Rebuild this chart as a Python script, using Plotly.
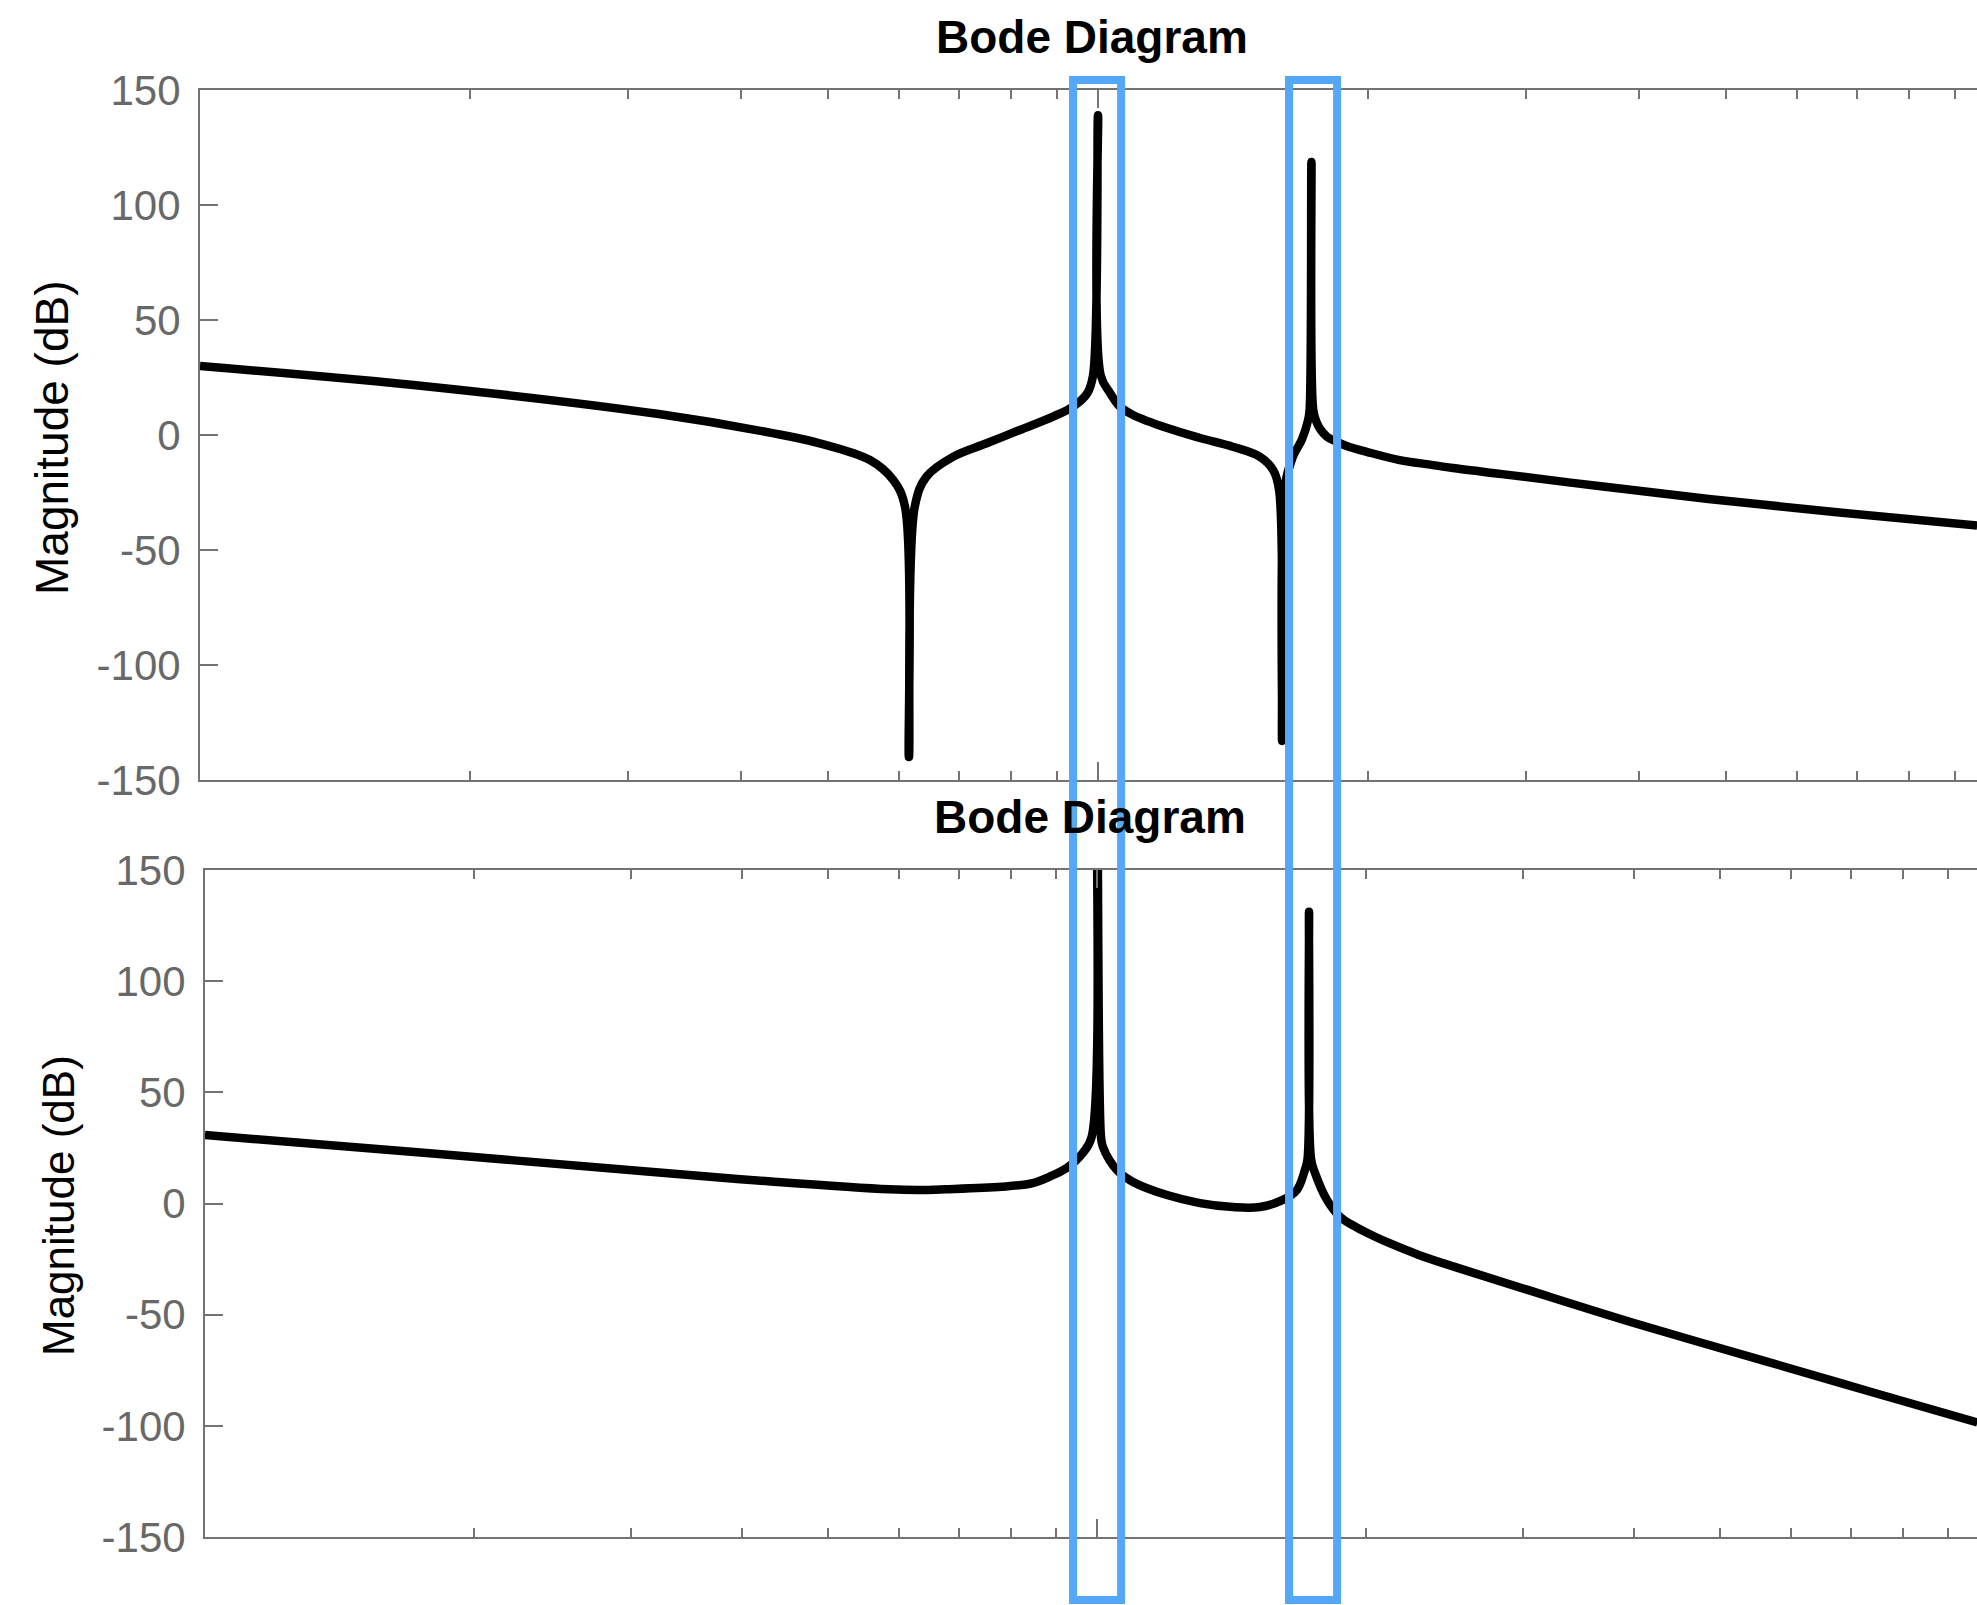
import math
import plotly.graph_objects as go

# Driving-point magnitude (rad/s, dB)
W_TOP = [0.1, 0.1803, 0.3243, 0.4355, 0.4898, 0.5572, 0.5916, 0.6095, 0.6158, 0.6252,
         0.6442, 0.6902, 0.7516, 0.8185, 0.8913, 0.9376, 0.9727, 0.9874, 1.0, 1.0069,
         1.0313, 1.0580, 1.0940, 1.1941, 1.2990, 1.4125, 1.5136, 1.5668, 1.5911, 1.6032,
         1.6144, 1.6482, 1.6866, 1.7140, 1.7205, 1.7285, 1.7365, 1.7498, 1.7683, 1.7971,
         1.8448, 1.9055, 1.9953, 2.1677, 2.3442, 2.5119, 2.8184, 3.6308, 4.7863, 6.6069,
         9.5280]
MAG_TOP = [30.0, 21.0, 9.1, 0.7, -3.6, -10.9, -19.6, -31.0, -140.0, -31.0,
           -18.1, -9.4, -3.6, 2.2, 8.0, 12.3, 18.1, 26.0, 139.0, 26.0,
           18.3, 12.3, 8.7, 3.0, -1.3, -5.1, -9.4, -15.2, -24.0, -133.0,
           -22.5, -9.4, -2.0, 6.5, 11.0, 118.7, 11.0, 6.0, 2.5, -0.6,
           -3.0, -5.2, -7.4, -10.9, -12.9, -14.6, -17.0, -22.3, -27.8, -33.5,
           -39.4]

# Transfer magnitude to the far end (rad/s, dB)
W_BOT = [0.1, 0.1786, 0.3228, 0.4345, 0.5848, 0.631, 0.6761, 0.7816, 0.8472, 0.8851,
         0.9247, 0.9638, 0.9863, 1.0, 1.0104, 1.0155, 1.0529, 1.0975, 1.1981, 1.3046,
         1.4204, 1.5224, 1.6155, 1.6749, 1.7100, 1.7219, 1.7286, 1.7378, 1.7555, 1.8105,
         1.8726, 1.9498, 2.0417, 2.1380, 2.2909, 2.5119, 3.0200, 3.9811, 5.6234, 7.4131,
         9.7051]
MAG_BOT = [30.8, 22.6, 13.9, 9.8, 6.4, 6.1, 6.4, 7.5, 9.2, 12.1,
           16.0, 22.7, 30.0, 180.0, 30.0, 25.4, 15.0, 9.7, 3.8, 0.2,
           -1.6, -1.6, 1.6, 6.0, 15.0, 20.0, 131.2, 20.0, 13.7, 1.6,
           -6.0, -10.5, -14.6, -18.2, -23.0, -28.4, -38.5, -53.5, -71.0, -85.0,
           -98.5]

Y_TICKS = [-150, -100, -50, 0, 50, 100, 150]
Y_TICK_TEXT = ["-150", "-100", "-50", "0", "50", "100", "150"]
DECADES = [0.1, 1, 10]
TITLE = "Bode Diagram"
Y_LABEL = "Magnitude (dB)"
# frequency bands around the two resonances (rad/s)
RESONANCE_BANDS = [(0.938, 1.061), (1.632, 1.846)]

FIG_W, FIG_H = 1977, 1605
AXIS_GRAY = "#737373"
TICK_GRAY = "#686868"
BLUE = "#55A8F7"
FONT = "Liberation Sans, Arial, Helvetica, sans-serif"

minor_vals = [d * k for d in DECADES for k in range(2, 10)]

# axes placement (pixels)
top_left, top_y0, top_y1, top_dec = 200, 90, 780, 898
bot_left, bot_y0, bot_y1, bot_dec = 205, 870, 1537, 892

top_xrange = [-1, -1 + (FIG_W - top_left) / top_dec]
bot_xrange = [-1, -1 + (FIG_W - bot_left) / bot_dec]


def xcfg(left, rng):
    return dict(type="log", domain=[left / FIG_W, 1], range=rng, automargin=False,
                showline=True, linecolor=AXIS_GRAY, linewidth=2, mirror="allticks",
                ticks="inside", ticklen=18, tickwidth=2, tickcolor=AXIS_GRAY,
                tickmode="array", tickvals=DECADES, showticklabels=False,
                showgrid=False, zeroline=False,
                minor=dict(ticks="inside", ticklen=9, tickwidth=2, tickcolor=AXIS_GRAY,
                           tickvals=minor_vals, showgrid=False))


def ycfg(y0, y1):
    return dict(domain=[1 - y1 / FIG_H, 1 - y0 / FIG_H], range=[-150, 150],
                automargin=False,
                showline=True, linecolor=AXIS_GRAY, linewidth=2, mirror=False,
                ticks="inside", ticklen=18, tickwidth=2, tickcolor=AXIS_GRAY,
                tickmode="array", tickvals=Y_TICKS, ticktext=Y_TICK_TEXT,
                tickfont=dict(family=FONT, size=42, color=TICK_GRAY),
                ticklabelstandoff=9, showgrid=False, zeroline=False)


curve_line = dict(color="black", width=8.5, shape="spline", smoothing=1)

fig = go.Figure()
fig.add_trace(go.Scatter(x=W_TOP, y=MAG_TOP, mode="lines", xaxis="x", yaxis="y",
                         line=curve_line, showlegend=False, hoverinfo="skip"))
fig.add_trace(go.Scatter(x=W_BOT, y=MAG_BOT, mode="lines", xaxis="x2", yaxis="y2",
                         line=curve_line, showlegend=False, hoverinfo="skip"))

annotations = []
for cx, cy in [(1092, 37), (1090, 817)]:
    annotations.append(dict(text="<b>" + TITLE + "</b>", x=cx / FIG_W, y=1 - cy / FIG_H,
                            xref="paper", yref="paper", showarrow=False,
                            xanchor="center", yanchor="middle",
                            font=dict(family=FONT, size=46, color="black")))
for cx, cy, fs in [(52, 438, 46), (58, 1206, 44)]:
    annotations.append(dict(text=Y_LABEL, x=cx / FIG_W, y=1 - cy / FIG_H,
                            xref="paper", yref="paper", showarrow=False, textangle=-90,
                            xanchor="center", yanchor="middle",
                            font=dict(family=FONT, size=fs, color="black")))


def to_paper(w):
    dom0 = top_left / FIG_W
    frac = (math.log10(w) - top_xrange[0]) / (top_xrange[1] - top_xrange[0])
    return dom0 + frac * (1 - dom0)


shapes = []
for lo, hi in RESONANCE_BANDS:
    shapes.append(dict(type="rect", xref="paper", yref="paper",
                       x0=to_paper(lo), x1=to_paper(hi),
                       y0=1 - 1600 / FIG_H, y1=1 - 80 / FIG_H,
                       line=dict(color=BLUE, width=8), fillcolor="rgba(0,0,0,0)",
                       layer="above"))

fig.update_layout(
    template="none",
    width=FIG_W, height=FIG_H, autosize=False,
    margin=dict(l=0, r=0, t=0, b=0, pad=0, autoexpand=False),
    paper_bgcolor="white", plot_bgcolor="white",
    xaxis=xcfg(top_left, top_xrange), yaxis=ycfg(top_y0, top_y1),
    xaxis2=dict(xcfg(bot_left, bot_xrange), anchor="y2"),
    yaxis2=dict(ycfg(bot_y0, bot_y1), anchor="x2"),
    annotations=annotations, shapes=shapes, showlegend=False,
)

fig.write_html("out.html")
